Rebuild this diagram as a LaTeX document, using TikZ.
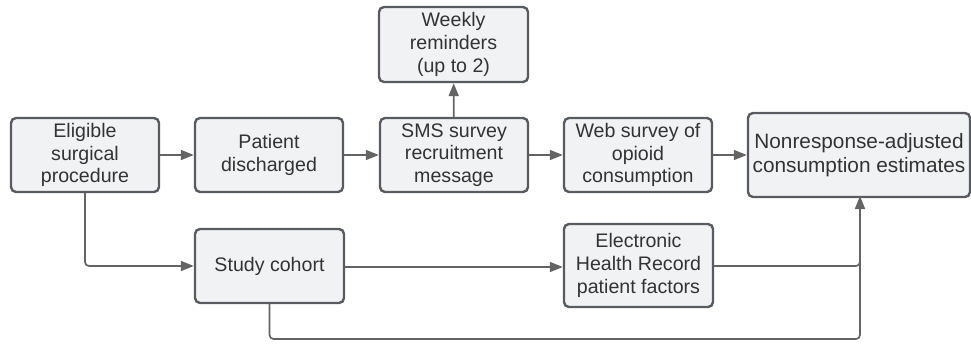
\documentclass[tikz,border=0pt]{standalone}
\usepackage{fontspec}
\setmainfont{Liberation Sans}
\usetikzlibrary{arrows.meta}
\definecolor{boxfill}{HTML}{F1F2F4}
\definecolor{boxline}{HTML}{585C61}
\definecolor{wire}{HTML}{646464}
\tikzset{
  stepbox/.style={draw=boxline, fill=boxfill, line width=2.4pt, rounded corners=5pt,
    align=center, inner sep=0pt, text=black!80, font=\fontsize{19.6}{22.8}\selectfont},
  link/.style={draw=wire, line width=1.7pt, rounded corners=4pt,
    -{Triangle[length=13pt,width=10pt]}},
  plain/.style={draw=wire, line width=1.7pt, rounded corners=4pt},
}
\begin{document}
\begin{tikzpicture}[x=1pt,y=-1pt]
\useasboundingbox (0,0) rectangle (971,345);
% main row
\node[stepbox, minimum width=148pt, minimum height=74pt] (elig) at (85,155) {Eligible\\surgical\\procedure};
\node[stepbox, minimum width=148pt, minimum height=74pt] (disc) at (269,155) {Patient\\discharged};
\node[stepbox, minimum width=148pt, minimum height=74pt] (sms) at (454,155) {SMS survey\\recruitment\\message};
\node[stepbox, minimum width=148pt, minimum height=74pt] (web) at (638,155) {Web survey of\\opioid\\consumption};
\node[stepbox, minimum width=222pt, minimum height=84pt, font=\fontsize{20.8}{24}\selectfont] (est) at (859,155) {Nonresponse-adjusted\\consumption estimates};
% reminders above
\node[stepbox, minimum width=149pt, minimum height=75pt] (rem) at (453.5,44.5) {Weekly\\reminders\\(up to 2)};
% lower row
\node[stepbox, minimum width=149pt, minimum height=74pt] (coh) at (269.5,266) {Study cohort};
\node[stepbox, minimum width=149pt, minimum height=83pt] (ehr) at (638.5,265.5) {Electronic\\Health Record\\patient factors};
\coordinate (jn) at (860,197);
% connectors
\draw[link] (elig) -- (disc);
\draw[link] (disc) -- (sms);
\draw[link] (sms) -- (web);
\draw[link] (web) -- (est);
\draw[link] (sms) -- (rem);
\draw[link] (elig.south) |- (coh.west);
\draw[link] (coh.east |- 0,267) -- (ehr.west |- 0,267);
\draw[plain] (ehr.east |- 0,266) -| (jn);
\draw[link] (coh.south) |- (jn |- 0,339) -- ([yshift=1pt]jn);
\end{tikzpicture}
\end{document}
